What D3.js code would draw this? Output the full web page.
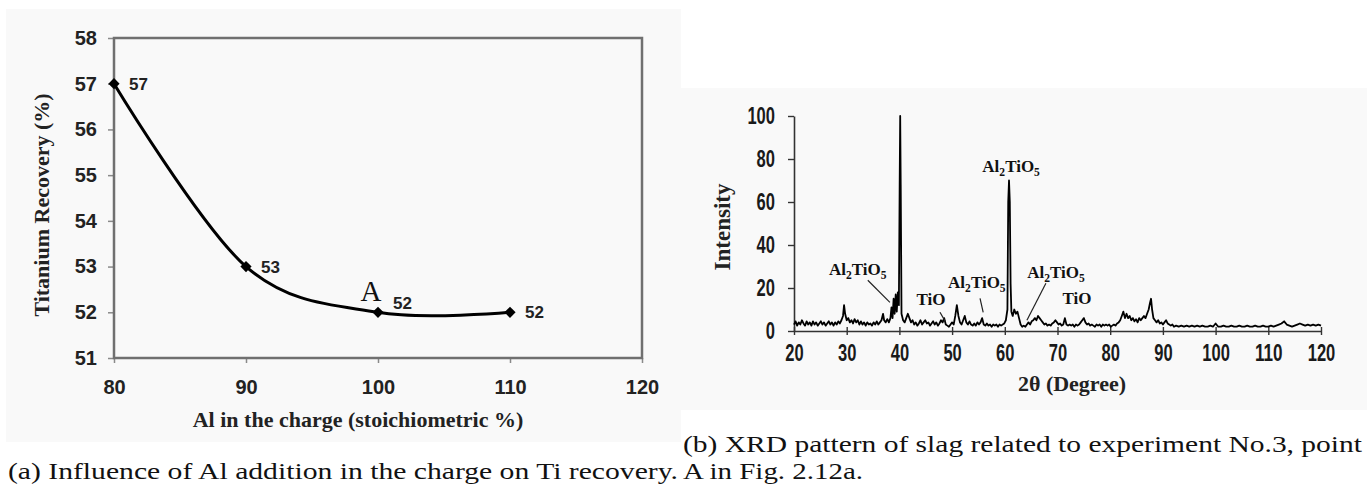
<!DOCTYPE html>
<html>
<head>
<meta charset="utf-8">
<script src="https://cdn.jsdelivr.net/npm/d3@7"></script>
<style>
body { margin: 0; background: #fff; }
svg { display: block; }
</style>
</head>
<body>
<svg id="figure" width="1367" height="486"></svg>
<script>
// (a) titanium recovery vs Al in the charge
const recovery_al = [80, 90, 100, 110];
const recovery_ti = [57, 53, 52, 52];
const recovery_x_ticks = [80, 90, 100, 110, 120];
const recovery_y_ticks = [51, 52, 53, 54, 55, 56, 57, 58];

// (b) XRD pattern, [2theta, intensity]
const xrd_pattern = [
    [20,3],[20.3,4.5],[20.6,2.5],[20.9,4],[21.2,3],[21.5,5],[21.8,3.5],[22.1,2.5],[22.4,4.5],[22.7,3],
    [23,4],[23.3,2.5],[23.6,4.5],[23.9,3],[24.2,4],[24.5,2.5],[24.8,3.5],[25.1,4.5],[25.4,3],[25.7,4],
    [26,2.5],[26.3,3.5],[26.6,4.5],[26.9,3],[27.2,4],[27.5,2.5],[27.8,4],[28.1,3],[28.4,4.5],[28.7,3.5],
    [29,5],[29.3,7],[29.5,12],[29.7,8],[30,5],[30.3,6],[30.6,4],[30.9,5],[31.2,3.5],[31.5,5.5],
    [31.8,4],[32.1,5],[32.4,3],[32.7,4.5],[33,3],[33.3,4],[33.6,2.5],[33.9,4],[34.2,3],[34.5,3.5],
    [34.8,2.5],[35.1,4],[35.4,3],[35.7,4.5],[36,3],[36.3,4],[36.6,5],[36.9,8],[37.1,5],[37.4,4],
    [37.7,5.5],[38,4],[38.3,6],[38.5,11],[38.7,6],[38.9,15],[39.1,8],[39.3,17],[39.5,9],[39.7,18],
    [39.9,12],[40.05,68],[40.15,100],[40.25,68],[40.4,8],[40.7,5],[41,4],[41.3,6],[41.6,8],[41.9,6],
    [42.2,4],[42.5,5],[42.8,3],[43.1,4],[43.4,2.5],[43.7,3.5],[44,5],[44.3,3],[44.6,4],[44.9,5],
    [45.2,3.5],[45.5,4],[45.8,2.5],[46.1,3.5],[46.4,4.5],[46.7,3],[47,4],[47.3,2.5],[47.6,3.5],[47.9,5],
    [48.2,4],[48.5,6],[48.8,3],[49.1,2.5],[49.4,2],[49.7,3],[50,4],[50.3,3],[50.6,7],[50.9,12],
    [51.2,7],[51.5,4],[51.8,3],[52.1,5],[52.4,7],[52.7,4],[53,3],[53.3,4.5],[53.6,3],[53.9,2.5],
    [54.2,3.5],[54.5,2.5],[54.8,4],[55.1,3],[55.4,4],[55.7,6],[56,3],[56.3,2.5],[56.6,3.5],[56.9,2.5],
    [57.2,3],[57.5,2],[57.8,3],[58.1,2.5],[58.4,3],[58.7,2],[59,3],[59.3,2.5],[59.6,3],[59.9,3.5],
    [60.2,5],[60.5,10],[60.65,60],[60.8,70],[60.95,60],[61.1,22],[61.25,9],[61.5,7],[61.8,10],[62.1,8],
    [62.4,9],[62.7,6],[63,3],[63.3,2],[63.6,2.5],[63.9,2],[64.2,3],[64.5,4],[64.8,3],[65.1,4.5],
    [65.4,5],[65.7,6],[66,5],[66.3,7],[66.6,6],[66.9,5],[67.2,4],[67.5,3],[67.8,3.5],[68.1,2.5],
    [68.4,3],[68.7,2.5],[69,3.5],[69.3,4],[69.6,5],[69.9,4],[70.2,3],[70.5,3.5],[70.8,2.5],[71.1,3],
    [71.4,6],[71.7,3],[72,2.5],[72.3,3],[72.6,2.5],[72.9,3],[73.2,2],[73.5,3],[73.8,2.5],[74.1,3],
    [74.4,4],[74.7,5],[75,6],[75.3,4],[75.6,3],[75.9,3.5],[76.2,2.5],[76.5,3],[76.8,2.5],[77.1,2],
    [77.4,3],[77.7,2.5],[78,3],[78.3,2],[78.6,3],[78.9,2.5],[79.2,3],[79.5,2.5],[79.8,3],[80.1,2],
    [80.4,2.5],[80.7,3],[81,2.5],[81.3,3.5],[81.6,4],[81.9,5],[82.2,7],[82.5,9],[82.8,6],[83.1,8],
    [83.4,6],[83.7,7],[84,5],[84.3,6],[84.6,4.5],[84.9,5.5],[85.2,4],[85.5,6],[85.8,5],[86.1,6],
    [86.4,7],[86.7,6],[87,8],[87.3,10],[87.55,13],[87.75,15],[87.95,10],[88.2,6],[88.5,5],[88.8,4],
    [89.1,5],[89.4,3.5],[89.7,4],[90,3],[90.3,4],[90.6,5],[90.9,3.5],[91.2,3],[91.5,2.5],[91.8,3],
    [92.1,2],[92.5,2.5],[93,2],[93.5,2.5],[94,2],[94.5,2.5],[95,2],[95.5,2.5],[96,2],[96.5,2.5],
    [97,2],[97.5,2.5],[98,2],[98.5,2],[99,2.5],[99.5,2],[100,3.5],[100.5,2],[101,2],[101.5,2.5],
    [102,2],[102.5,2],[103,2.5],[103.5,2],[104,2],[104.5,2.5],[105,2],[105.5,2],[106,2.5],[106.5,2],
    [107,2],[107.5,2.5],[108,2],[108.5,2],[109,2.5],[109.5,2],[110,2],[110.5,2.5],[111,2],[111.5,2.5],
    [112,3],[112.5,3.5],[113,4.5],[113.5,3],[114,2.5],[114.5,2],[115,2.5],[115.5,3],[116,3.5],[116.5,3],
    [117,2.5],[117.5,3],[118,2.5],[118.5,3],[119,2.5],[119.5,3],[120,2.5]
];
const xrd_x_ticks = [20, 30, 40, 50, 60, 70, 80, 90, 100, 110, 120];
const xrd_y_ticks = [0, 20, 40, 60, 80, 100];

// phase labels: name, label centre [2theta, intensity], leader line (or null)
const xrd_phases = ["Al2TiO5", "TiO", "Al2TiO5", "Al2TiO5", "Al2TiO5", "TiO"];
const xrd_label_at = [[32.1, 28.2], [46.0, 14.3], [54.7, 22.2], [61.2, 76.2], [69.7, 26.8], [73.7, 14.7]];
const xrd_leaders = [
    [[34.0, 23.6], [38.2, 13.3]],
    [[47.7, 8.7], [48.7, 4.5]],
    [[55.3, 15.2], [55.9, 8.7]],
    null,
    [[67.8, 22.2], [64.2, 5.0]],
    null
];

const caption_a = "(a) Influence of Al addition in the charge on Ti recovery.";
const caption_b = ["(b) XRD pattern of slag related to experiment No.3, point", "A in Fig. 2.12a."];

const serif = "'Liberation Serif', 'Times New Roman', serif";
const sans = "'Liberation Sans', Arial, sans-serif";

function formula(text_sel, name, size) {
    // split "Al2TiO5" into normal and subscript parts
    let parts = name.match(/[A-Za-z]+|[0-9]+/g);
    let shifted = false;
    for (const p of parts) {
        let is_sub = /[0-9]/.test(p);
        let t = text_sel.append("tspan").text(p);
        if (is_sub) {
            t.attr("font-size", size * 0.68).attr("dy", 4);
            shifted = true;
        } else if (shifted) {
            t.attr("dy", -4);
            shifted = false;
        }
    }
}

function recovery_chart(svg) {
    let frame = {left: 114, right: 642, top: 38, bottom: 358};
    let x = d3.scaleLinear().domain([80, 120]).range([frame.left, frame.right]);
    let y = d3.scaleLinear().domain([51, 58]).range([frame.bottom, frame.top]);

    svg.append("rect")
        .attr("x", 6).attr("y", 9)
        .attr("width", 675).attr("height", 433)
        .attr("fill", "#f9f9f9");

    let y_axis = svg.append("g")
        .attr("transform", "translate(" + frame.left + ",0)")
        .call(d3.axisLeft(y)
            .tickValues(recovery_y_ticks)
            .tickSize(6)
            .tickPadding(11)
            .tickFormat(d3.format("d")));
    let x_axis = svg.append("g")
        .attr("transform", "translate(0," + frame.bottom + ")")
        .call(d3.axisBottom(x)
            .tickValues(recovery_x_ticks)
            .tickSize(5)
            .tickPadding(17)
            .tickFormat(d3.format("d")));
    for (const ax of [x_axis, y_axis]) {
        ax.select(".domain").remove();
        ax.selectAll(".tick line").attr("stroke", "#8a8a8a").attr("stroke-width", 1.5);
        ax.selectAll(".tick text")
            .attr("font-family", sans)
            .attr("font-weight", "bold")
            .attr("font-size", 20)
            .attr("fill", "#222");
    }

    svg.append("rect")
        .attr("x", frame.left).attr("y", frame.top)
        .attr("width", frame.right - frame.left)
        .attr("height", frame.bottom - frame.top)
        .attr("fill", "none")
        .attr("stroke", "#707070")
        .attr("stroke-width", 2.5);

    let points = recovery_al.map((a, i) => [a, recovery_ti[i]]);
    svg.append("path")
        .datum(points)
        .attr("fill", "none")
        .attr("stroke", "#000")
        .attr("stroke-width", 3)
        .attr("d", d3.line()
            .x(d => x(d[0]))
            .y(d => y(d[1]))
            .curve(d3.curveCardinal));

    svg.selectAll(".marker")
        .data(points)
        .enter()
        .append("path")
        .attr("class", "marker")
        .attr("transform", d => "translate(" + x(d[0]) + "," + y(d[1]) + ")")
        .attr("d", d3.symbol(d3.symbolDiamond2, 80))
        .attr("fill", "#000");

    svg.selectAll(".value")
        .data(points)
        .enter()
        .append("text")
        .attr("class", "value")
        .attr("x", d => x(d[0]) + 15)
        .attr("y", (d, i) => y(d[1]) + (i == 2 ? -9 : 0))
        .attr("dy", "0.36em")
        .attr("font-family", sans)
        .attr("font-weight", "bold")
        .attr("font-size", 17)
        .attr("fill", "#222")
        .text(d => d[1]);

    // point A = 100 %
    svg.append("text")
        .attr("x", x(100) - 7)
        .attr("y", y(52) - 11)
        .attr("text-anchor", "middle")
        .attr("font-family", serif)
        .attr("font-size", 29)
        .attr("fill", "#111")
        .text("A");

    svg.append("text")
        .attr("x", 358).attr("y", 427)
        .attr("text-anchor", "middle")
        .attr("font-family", serif)
        .attr("font-weight", "bold")
        .attr("font-size", 22)
        .attr("fill", "#222")
        .text("Al in the charge (stoichiometric %)");

    svg.append("text")
        .attr("transform", "translate(49,205) rotate(-90)")
        .attr("text-anchor", "middle")
        .attr("font-family", serif)
        .attr("font-weight", "bold")
        .attr("font-size", 22)
        .attr("fill", "#222")
        .text("Titanium Recovery (%)");
}

function xrd_chart(svg) {
    let frame = {left: 794, right: 1321, top: 116, bottom: 331};
    let x = d3.scaleLinear().domain([20, 120]).range([frame.left, frame.right]);
    let y = d3.scaleLinear().domain([0, 100]).range([frame.bottom, frame.top]);

    svg.append("rect")
        .attr("x", 681).attr("y", 88)
        .attr("width", 686).attr("height", 322)
        .attr("fill", "#f9f9f9");

    let y_axis = svg.append("g")
        .attr("transform", "translate(" + frame.left + ",0)")
        .call(d3.axisLeft(y)
            .tickValues(xrd_y_ticks)
            .tickSize(6)
            .tickSizeOuter(0)
            .tickPadding(13));
    let x_axis = svg.append("g")
        .attr("transform", "translate(0," + frame.bottom + ")")
        .call(d3.axisBottom(x)
            .tickValues(xrd_x_ticks)
            .tickSize(4)
            .tickSizeOuter(0)
            .tickPadding(10));
    x_axis.selectAll(".tick line").attr("y1", -4);
    for (const ax of [x_axis, y_axis]) {
        ax.select(".domain").attr("stroke", "#333").attr("stroke-width", 1.6);
        ax.selectAll(".tick line").attr("stroke", "#333").attr("stroke-width", 1.4);
        // condensed look: squeeze the digits
        ax.selectAll(".tick text")
            .attr("font-family", sans)
            .attr("font-weight", "bold")
            .attr("font-size", 23)
            .attr("textLength", d => String(d).length * 9.2)
            .attr("lengthAdjust", "spacingAndGlyphs")
            .attr("fill", "#1a1a1a");
    }

    svg.append("path")
        .datum(xrd_pattern)
        .attr("fill", "none")
        .attr("stroke", "#000")
        .attr("stroke-width", 1.8)
        .attr("stroke-linejoin", "round")
        .attr("d", d3.line()
            .x(d => x(d[0]))
            .y(d => y(d[1])));

    xrd_leaders.forEach(l => {
        if (!l) return;
        svg.append("line")
            .attr("x1", x(l[0][0])).attr("y1", y(l[0][1]))
            .attr("x2", x(l[1][0])).attr("y2", y(l[1][1]))
            .attr("stroke", "#222")
            .attr("stroke-width", 1.2);
    });

    xrd_phases.forEach((name, i) => {
        let t = svg.append("text")
            .attr("x", x(xrd_label_at[i][0]))
            .attr("y", y(xrd_label_at[i][1]) + 5)
            .attr("text-anchor", "middle")
            .attr("font-family", serif)
            .attr("font-weight", "bold")
            .attr("font-size", 17)
            .attr("fill", "#111");
        formula(t, name, 17);
    });

    svg.append("text")
        .attr("x", 1072).attr("y", 391)
        .attr("text-anchor", "middle")
        .attr("font-family", serif)
        .attr("font-weight", "bold")
        .attr("font-size", 22)
        .attr("fill", "#222")
        .text("2θ (Degree)");

    svg.append("text")
        .attr("transform", "translate(730,227) rotate(-90)")
        .attr("text-anchor", "middle")
        .attr("font-family", serif)
        .attr("font-weight", "bold")
        .attr("font-size", 23)
        .attr("fill", "#222")
        .text("Intensity");
}

function captions(svg) {
    let cap = (txt, x0, y0, w) => svg.append("text")
        .attr("x", x0).attr("y", y0)
        .attr("font-family", serif)
        .attr("font-size", 24)
        .attr("fill", "#111")
        .attr("textLength", w)
        .attr("lengthAdjust", "spacingAndGlyphs")
        .text(txt);
    cap(caption_a, 8, 479, 670);
    cap(caption_b[0], 683, 452, 679);
    cap(caption_b[1], 683, 479, 180);
}

let svg = d3.select("#figure");
recovery_chart(svg);
xrd_chart(svg);
captions(svg);
</script>
</body>
</html>
